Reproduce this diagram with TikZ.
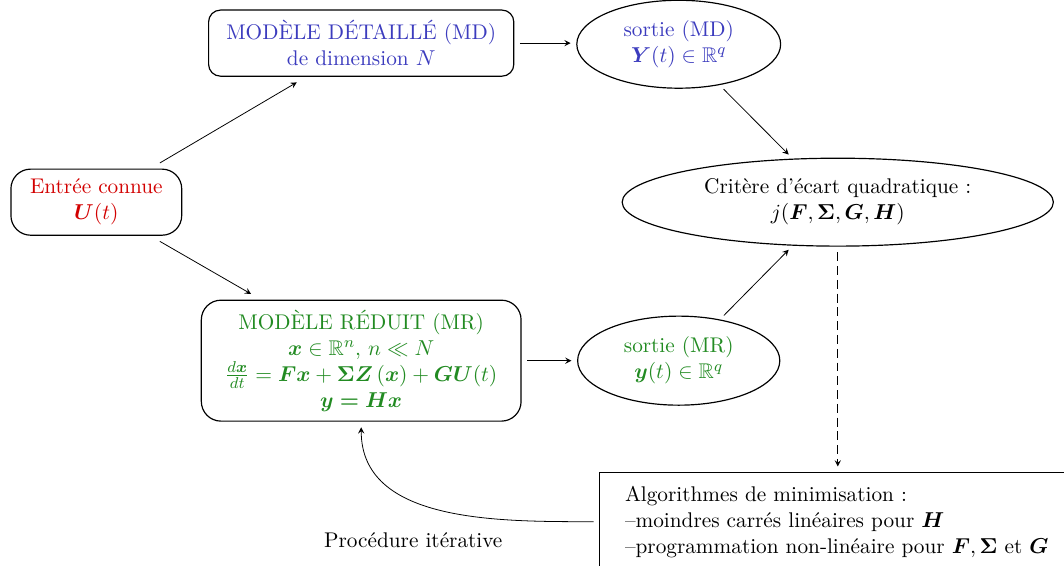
\documentclass[tikz,border=0pt]{standalone}
\usepackage{amsmath,amssymb,bm}
\usetikzlibrary{shapes.geometric}
\definecolor{mdblue}{RGB}{60,60,190}
\definecolor{mrgreen}{RGB}{34,139,34}
\definecolor{inred}{RGB}{210,0,0}
\begin{document}
\begin{tikzpicture}[
    every node/.style={font=\fontsize{10.8}{13.2}\selectfont},
    boite/.style={draw,semithick,rounded corners=6pt,align=center},
    sortie/.style={draw,semithick,ellipse,align=center,inner sep=0pt},
    fleche/.style={->,>=stealth},
    ecart/.style={shorten >=1mm,shorten <=1mm}]

                    \useasboundingbox (0,0) rectangle (19,10.09);

                    % modeles
                    \node[boite,text=mdblue,minimum width=5.45cm,minimum height=1.18cm] (md) at (6.45,9.32)
                        {MOD\`ELE D\'ETAILL\'E (MD)\\ de dimension $N$};
                    \node[boite,rounded corners=10pt,text=inred,minimum width=3.05cm,minimum height=1.18cm] (entree) at (1.72,6.48)
                        {Entr\'ee connue\\ $\bm{U}(t)$};
                    \node[boite,rounded corners=10pt,text=mrgreen,minimum width=5.71cm,minimum height=2.16cm] (mr) at (6.45,3.65)
                        {MOD\`ELE R\'EDUIT (MR)\\
                         $\bm{x}\in\mathbb{R}^n$, $n\ll N$\\
                         $\frac{d\bm{x}}{dt}=\bm{F}\bm{x}+\bm{\Sigma}\bm{Z}\left(\bm{x}\right)+\bm{G}\bm{U}(t)$\\
                         $\bm{y=Hx}$};

                    % sorties
                    \node[sortie,text=mdblue,minimum width=3.64cm,minimum height=1.57cm] (smd) at (12.12,9.3)
                        {sortie (MD)\\ $\bm{Y}(t)\in\mathbb{R}^q$};
                    \node[sortie,text=mrgreen,minimum width=3.61cm,minimum height=1.59cm] (smr) at (12.12,3.65)
                        {sortie (MR)\\ $\bm{y}(t)\in\mathbb{R}^q$};
                    \node[sortie,minimum width=7.7cm,minimum height=1.57cm] (crit) at (14.96,6.48)
                        {Crit\`ere d'\'ecart quadratique :\\ $j(\bm{F},\bm{\Sigma},\bm{G},\bm{H})$};

                    % minimisation
                    \node[draw,semithick,anchor=north west,align=left,inner xsep=0.45cm,minimum height=1.75cm] (algo) at (10.7,1.66)
                        {Algorithmes de minimisation :\\
                         --moindres carr\'es lin\'eaires pour $\bm{H}$\\
                         --programmation non-lin\'eaire pour $\bm{F},\bm{\Sigma}$ et $\bm{G}$};
                    \node (iter) at (7.38,0.45) {Proc\'edure it\'erative};

                    % fleches
                    \draw[fleche] ([xshift=-4mm,yshift=1mm]entree.north east) -- ([xshift=-11.5mm,yshift=-1mm]md.south);
                    \draw[fleche] ([xshift=-4mm,yshift=-1mm]entree.south east) -- ([xshift=9mm,yshift=1mm]mr.north west);
                    \draw[fleche,ecart] (md.east) -- (md.east -| smd.west);
                    \draw[fleche,ecart] (mr.east) -- (smr.west);
                    \draw[fleche,ecart] (smd.-45) -- (crit.136);
                    \draw[fleche,ecart] (smr.45) -- (crit.-136);
                    \draw[fleche,ecart,dash pattern=on 4.5pt off 2.5pt] (crit.south) -- (crit.south |- algo.north);
                    \draw[fleche,ecart] (algo.west) to[out=180,in=-90] (mr.south);

\end{tikzpicture}
\end{document}
